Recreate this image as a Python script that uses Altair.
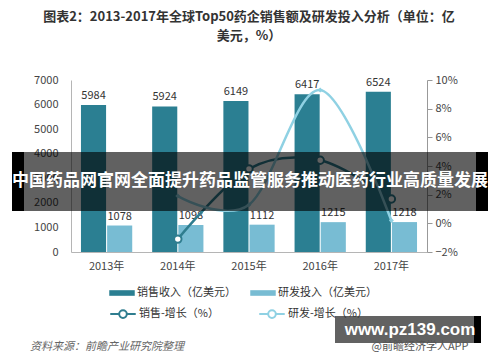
import altair as alt
import pandas as pd

# ---- data ----
years = ["2013年", "2014年", "2015年", "2016年", "2017年"]
sales = [5984, 5924, 6149, 6417, 6524]
rnd = [1078, 1098, 1112, 1215, 1218]
sales_growth = [None, -0.011, 0.038, 0.044, 0.017]
rnd_growth = [None, 0.019, 0.013, 0.093, 0.002]

bar_series = ["销售收入（亿美元）", "研发投入（亿美元）"]
line_series = ["销售-增长（%）", "研发-增长（%）"]
left_ticks = [0, 1000, 2000, 3000, 4000, 5000, 6000, 7000]
right_ticks = [-0.02, 0.0, 0.02, 0.04, 0.06, 0.08, 0.10]

title_lines = ["图表2：2013-2017年全球Top50药企销售额及研发投入分析（单位：亿", "美元，%）"]
banner_text = "中国药品网官网全面提升药品监管服务推动医药行业高质量发展"
source_text = "资料来源：前瞻产业研究院整理"
site_text = "www.pz139.com"
app_text = "@前瞻经济学人APP"

FONT = "Noto Sans CJK SC"
DARK = "#2b7f92"
LIGHT = "#78bcd3"
DARK_LINE = "#2f7d8f"
LIGHT_LINE = "#8fd1e3"

bar_df = pd.DataFrame({
    "year": years * 2,
    "series": [bar_series[0]] * 5 + [bar_series[1]] * 5,
    "value": sales + rnd,
})
line_rows = []
for i, y in enumerate(years):
    if sales_growth[i] is not None:
        line_rows.append({"year": y, "series": line_series[0], "g": sales_growth[i]})
for i, y in enumerate(years):
    if rnd_growth[i] is not None:
        line_rows.append({"year": y, "series": line_series[1], "g": rnd_growth[i]})
line_df = pd.DataFrame(line_rows)
one = pd.DataFrame({"k": [0]})

xscale = alt.Scale(domain=years, paddingInner=0.28, paddingOuter=0.14)
xaxis = alt.Axis(title=None, labelAngle=0, labelFont=FONT, labelFontSize=11,
                 labelColor="#444", domainColor="#b5b5b5", ticks=False,
                 labelPadding=8)
lscale = alt.Scale(domain=[0, 7000])
laxis = alt.Axis(title=None, orient="left", values=left_ticks, format="d", grid=False,
                 ticks=False, labelFont=FONT, labelFontSize=11, labelColor="#444",
                 domainColor="#b5b5b5", labelPadding=13, labelOverlap=False)
rscale = alt.Scale(domain=[-0.02, 0.10])
raxis = alt.Axis(title=None, orient="right", values=right_ticks, format=".0%",
                 grid=False, tickSize=5, tickColor="#999", domainColor="#999",
                 labelFont=FONT, labelFontSize=11, labelColor="#444",
                 labelPadding=3, labelOverlap=False)

CIRCLE_SYM = "M-1,0H-0.3M0.3,0H1M-0.3,0A0.3,0.3 0 1,1 0.3,0A0.3,0.3 0 1,1 -0.3,0"

bar_legend = alt.Legend(
    title=None, orient="none", legendX=38, legendY=200, direction="horizontal",
    symbolType="M-1,-0.22H1V0.22H-1Z", symbolSize=650, symbolStrokeWidth=0,
    labelFont=FONT, labelFontSize=11, labelColor="#333", labelOffset=2,
    columnPadding=14,
)
line_legend = alt.Legend(
    title=None, orient="none", legendX=38, legendY=220, direction="horizontal",
    symbolType=CIRCLE_SYM,
    symbolSize=650, symbolStrokeWidth=2, symbolFillColor="white",
    labelFont=FONT, labelFontSize=11, labelColor="#333", labelOffset=2,
    columnPadding=36,
)

bars = alt.Chart(bar_df).mark_bar().encode(
    x=alt.X("year:N", scale=xscale, axis=xaxis, sort=years),
    xOffset=alt.XOffset("series:N", sort=bar_series, scale=alt.Scale(paddingInner=0.04)),
    y=alt.Y("value:Q", scale=lscale, axis=laxis),
    fill=alt.Fill("series:N", scale=alt.Scale(domain=bar_series, range=[DARK, LIGHT]),
                  legend=bar_legend),
)
bar_labels = alt.Chart(bar_df).mark_text(
    dy=-9, font=FONT, fontSize=11, color="#333"
).encode(
    x=alt.X("year:N", scale=xscale, axis=xaxis, sort=years),
    xOffset=alt.XOffset("series:N", sort=bar_series, scale=alt.Scale(paddingInner=0.04)),
    y=alt.Y("value:Q", scale=lscale, axis=laxis),
    text=alt.Text("value:Q", format="d"),
)
left = alt.layer(bars, bar_labels)

lines = alt.Chart(line_df).mark_line(interpolate="cardinal", strokeWidth=2.5).encode(
    x=alt.X("year:N", scale=xscale, axis=xaxis, sort=years),
    y=alt.Y("g:Q", scale=rscale, axis=raxis),
    stroke=alt.Stroke("series:N", scale=alt.Scale(domain=line_series,
                                                  range=[DARK_LINE, LIGHT_LINE]),
                      legend=line_legend),
)
pts = alt.Chart(line_df).transform_filter(
    alt.datum.series == line_series[0]
).mark_point(filled=True, fill="white", stroke=DARK_LINE, strokeWidth=2, size=55,
             opacity=1).encode(
    x=alt.X("year:N", scale=xscale, axis=xaxis, sort=years),
    y=alt.Y("g:Q", scale=rscale, axis=raxis),
)
pts2 = alt.Chart(line_df).transform_filter(
    alt.datum.series == line_series[1]
).mark_point(shape="diamond", filled=True, color=LIGHT_LINE, size=25, opacity=1).encode(
    x=alt.X("year:N", scale=xscale, axis=xaxis, sort=years),
    y=alt.Y("g:Q", scale=rscale, axis=raxis),
)
right = alt.layer(lines, pts2, pts)

# ---- annotations (title, overlay banner, source, site box) ----
t1 = alt.Chart(one).mark_text(font=FONT, fontSize=13, fontWeight="bold", color="#333",
                              baseline="middle").encode(
    x=alt.value(178), y=alt.value(-63), text=alt.value(title_lines[0]))
t2 = alt.Chart(one).mark_text(font=FONT, fontSize=13, fontWeight="bold", color="#333",
                              baseline="middle").encode(
    x=alt.value(178), y=alt.value(-44), text=alt.value(title_lines[1]))
banner = alt.Chart(one).mark_rect(color="black", opacity=0.62).encode(
    x=alt.value(-59), x2=alt.value(417), y=alt.value(72), y2=alt.value(131))
bl = alt.Chart(one).mark_rect(color="black").encode(
    x=alt.value(-59), x2=alt.value(-47), y=alt.value(72), y2=alt.value(131))
br = alt.Chart(one).mark_rect(color="black").encode(
    x=alt.value(405), x2=alt.value(417), y=alt.value(72), y2=alt.value(131))
btext = alt.Chart(one).mark_text(font=FONT, fontSize=17, fontWeight="bold", color="white",
                                 baseline="middle").encode(
    x=alt.value(179), y=alt.value(101), text=alt.value(banner_text))
src = alt.Chart(one).mark_text(font=FONT, fontSize=11, fontStyle="italic", color="#666",
                               align="left", baseline="middle").encode(
    x=alt.value(-41), y=alt.value(267), text=alt.value(source_text))
app = alt.Chart(one).mark_text(font=FONT, fontSize=11, color="#555",
                               baseline="middle").encode(
    x=alt.value(349), y=alt.value(267), text=alt.value(app_text))
box = alt.Chart(one).mark_rect(color="#555", opacity=0.92).encode(
    x=alt.value(264), x2=alt.value(410), y=alt.value(236), y2=alt.value(263))
boxr = alt.Chart(one).mark_rect(color="black").encode(
    x=alt.value(403), x2=alt.value(410), y=alt.value(236), y2=alt.value(263))
site = alt.Chart(one).mark_text(font="Liberation Sans", fontSize=17, fontWeight="bold",
                                color="white", baseline="middle").encode(
    x=alt.value(339), y=alt.value(250), text=alt.value(site_text))

chart = alt.layer(
    left, right, t1, t2, banner, bl, br, btext, src, app, box, boxr, site
).resolve_scale(
    y="independent", fill="independent", stroke="independent"
).properties(
    width=356, height=172,
    padding={"left": 63, "top": 72, "right": 65, "bottom": 102},
    autosize=alt.AutoSizeParams(type="none"),
    background="white",
).configure_view(stroke=None)

chart.save("out.html", embed_options={"renderer": "svg", "actions": False})
